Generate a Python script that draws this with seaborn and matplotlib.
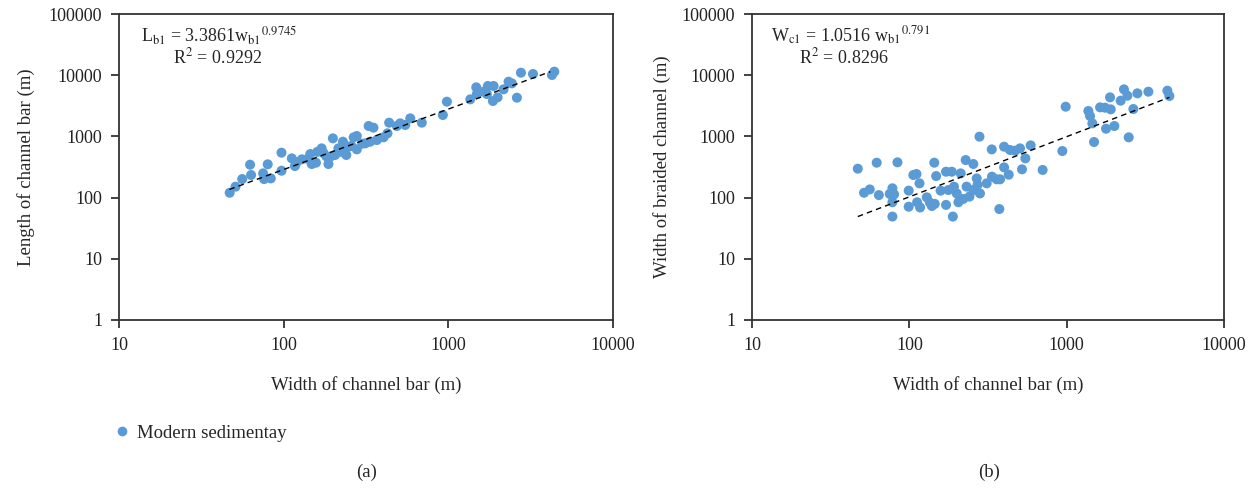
import pandas as pd
import numpy as np
import matplotlib
matplotlib.use("Agg")
import matplotlib.pyplot as plt
import seaborn as sns
from matplotlib.ticker import FixedLocator, FuncFormatter, NullLocator
from matplotlib.lines import Line2D

# (a) width of channel bar vs length of channel bar
wb_a = [47, 51, 56, 62.5, 63.4, 75, 76, 80, 83.5, 97, 97, 112, 117, 129, 145, 148, 157,
        170, 175, 187, 192, 199, 205, 215, 229, 240, 248, 266, 278, 278, 313, 328, 351,
        335, 368, 404, 427, 437, 487, 510, 547, 587, 690, 926, 980, 1359, 1477, 1490,
        1636, 1714, 1738, 1883, 1865, 1991, 2164, 2321, 2431, 2608, 2760, 3266, 4260,
        4399, 160, 182, 222, 233, 258, 300, 120, 140]
lb_a = [120, 151, 201, 345, 234, 249, 201, 350, 206, 542, 275, 438, 328, 422, 515, 354,
        372, 638, 529, 354, 467, 930, 497, 638, 820, 497, 679, 966, 1016, 614, 771, 1479,
        1390, 820, 873, 966, 1122, 1676, 1479, 1636, 1536, 1973, 1676, 2238, 3692, 4033,
        6339, 4930, 5380, 4930, 6666, 6666, 3786, 4349, 5879, 7839, 7358, 4296, 10995,
        10465, 10080, 11433, 560, 470, 560, 600, 700, 760, 380, 430]
fit_a_x = [46.8, 4160]
fit_a_y = [136, 11420]

# (b) width of channel bar vs width of braided channel
wb_b = [47, 51.5, 56, 62, 64, 78, 75, 80, 78, 78, 84, 99, 99, 106, 111, 116, 112, 117,
        129, 135, 139, 145, 144, 148, 158, 171, 171, 177, 186, 189, 192, 200, 205, 212,
        220, 228, 231, 241, 255, 255, 268, 271, 281, 279, 310, 334, 335, 359, 377, 373,
        400, 400, 428, 436, 470, 505, 520, 546, 590, 703, 938, 985, 1373, 1407, 1455,
        1492, 1630, 1753, 1905, 1778, 1885, 2009, 2203, 2312, 2430, 2478, 2652, 2813,
        3305, 4364, 4494]
wc_b = [297, 120, 136, 372, 110, 142, 115, 113, 84, 49, 377, 130, 71, 234, 243, 171, 84,
        69, 101, 83, 73, 79, 372, 225, 130, 265, 76, 133, 265, 49, 151, 117, 84, 249, 95,
        411, 151, 104, 354, 133, 206, 161, 117, 991, 171, 614, 220, 199, 199, 65, 679, 312,
        237, 600, 585, 638, 290, 438, 714, 283, 577, 3060, 2600, 2154, 1634, 810, 2985,
        2946, 2768, 1337, 4349, 1479, 3837, 5879, 4626, 966, 2804, 5057, 5380, 5587, 4575]
fit_b_x = [47, 4500]
fit_b_y = [49, 4350]

df_a = pd.DataFrame({"w": wb_a, "l": lb_a})
df_b = pd.DataFrame({"w": wb_b, "l": wc_b})

sns.set_style("ticks")
plt.rcParams["font.family"] = ["Liberation Serif", "DejaVu Serif"]
plt.rcParams["mathtext.fontset"] = "stix"

blue = "#5b9bd5"
fig = plt.figure(figsize=(12.58, 4.92), dpi=100)
ax1 = fig.add_axes([0.0946, 0.3496, 0.3927, 0.6219])
ax2 = fig.add_axes([0.5978, 0.3496, 0.3752, 0.6219])

for ax, df, fx, fy in [(ax1, df_a, fit_a_x, fit_a_y), (ax2, df_b, fit_b_x, fit_b_y)]:
    sns.scatterplot(data=df, x="w", y="l", ax=ax, color=blue, s=52, edgecolor="none",
                    legend=False, zorder=2)
    ax.plot(fx, fy, color="black", lw=1.0, ls=(0, (4, 3)), zorder=3)
    ax.set_xscale("log")
    ax.set_yscale("log")
    ax.set_xlim(10, 10000)
    ax.set_ylim(1, 100000)
    ax.xaxis.set_major_locator(FixedLocator([10, 100, 1000, 10000]))
    ax.yaxis.set_major_locator(FixedLocator([1, 10, 100, 1000, 10000, 100000]))
    ax.xaxis.set_minor_locator(NullLocator())
    ax.yaxis.set_minor_locator(NullLocator())
    fmt = FuncFormatter(lambda v, p: "%d" % round(v))
    ax.xaxis.set_major_formatter(fmt)
    ax.yaxis.set_major_formatter(fmt)
    ax.tick_params(direction="out", length=6, width=1.2, labelsize=13, colors="#222222",
                   pad=6)
    for s in ax.spines.values():
        s.set_linewidth(1.3)
        s.set_color("#333333")
    ax.set_xlabel("Width of channel bar (m)", fontsize=13.5, labelpad=16)

ax1.set_ylabel("Length of channel bar (m)", fontsize=13.5, labelpad=10)
ax2.set_ylabel("Width of braided channel (m)", fontsize=13.5, labelpad=8)

ax1.text(0.045, 0.93, r"L$_{\mathrm{b1}}$ = 3.3861w$_{\mathrm{b1}}$$^{\mathrm{0.9745}}$",
         transform=ax1.transAxes, fontsize=13, va="center", ha="left")
ax1.text(0.2, 0.858, r"R$^{2}$ = 0.9292", transform=ax1.transAxes, fontsize=13,
         va="center", ha="center")
ax2.text(0.04, 0.93, r"W$_{\mathrm{c1}}$ = 1.0516 w$_{\mathrm{b1}}$$^{\mathrm{0.791}}$",
         transform=ax2.transAxes, fontsize=13, va="center", ha="left")
ax2.text(0.195, 0.858, r"R$^{2}$ = 0.8296", transform=ax2.transAxes, fontsize=13,
         va="center", ha="center")

handle = Line2D([], [], marker="o", ls="none", color=blue, markersize=7,
                markeredgewidth=0)
fig.legend([handle], ["Modern sedimentay"], loc="center left",
           bbox_to_anchor=(0.0775, 0.12), frameon=False, fontsize=13.5,
           handlelength=0.8, handletextpad=0.4)

fig.text(0.291, 0.03, "(a)", fontsize=13.5, ha="center")
fig.text(0.786, 0.03, "(b)", fontsize=13.5, ha="center")

fig.savefig("out.png", dpi=100)
